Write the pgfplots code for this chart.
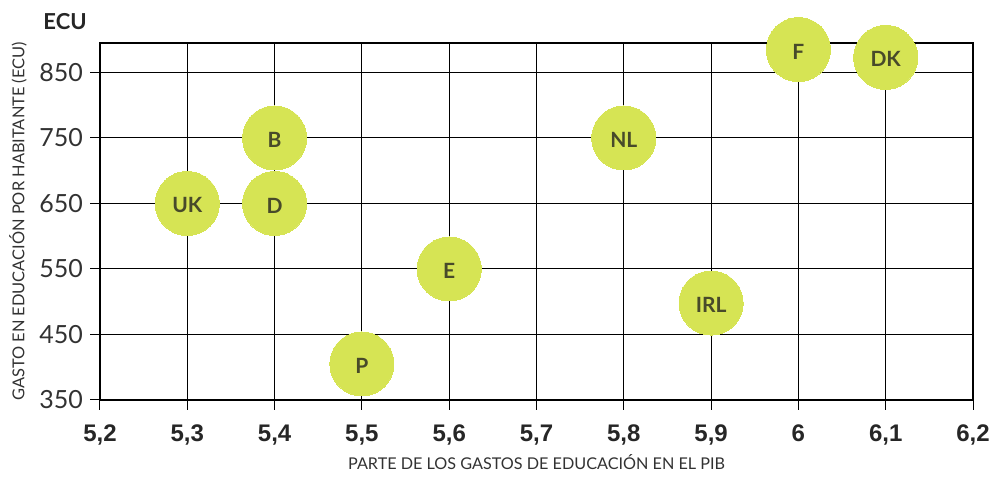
\documentclass[border=0pt]{standalone}
\usepackage{fontspec}
\setmainfont{Lato}
\newfontfamily\arialf{Liberation Sans}
\usepackage{pgfplots}
\pgfplotsset{compat=1.18}
\definecolor{bub}{RGB}{214,228,84}
\definecolor{lab}{RGB}{72,74,42}
\definecolor{txt}{RGB}{50,50,50}
\begin{document}
\begin{tikzpicture}
\path (-50pt,-45.5pt) rectangle (449pt,200pt);
\begin{axis}[
  name=ax,
  at={(0,0)}, anchor=south west,
  scale only axis, width=436.5pt, height=178.5pt,
  xmin=5.2, xmax=6.2, ymin=350, ymax=895,
  xtick={5.2,5.3,5.4,5.5,5.6,5.7,5.8,5.9,6.0,6.1,6.2},
  xticklabels={{5,2},{5,3},{5,4},{5,5},{5,6},{5,7},{5,8},{5,9},{6},{6,1},{6,2}},
  ytick={350,450,550,650,750,850},
  yticklabels={350,450,550,650,750,850},
  xticklabel style={font=\arialf\bfseries\fontsize{12}{14}\selectfont, text=black!85, yshift=-4pt},
  yticklabel style={font=\fontsize{12.5}{14}\selectfont, text=txt},
  xtick pos=lower, ytick pos=left,
  tick align=outside, major tick length=5pt,
  tick style={black, line width=0.5pt},
  grid=major,
  major grid style={black, line width=0.5pt},
  axis line style={black, line width=1.1pt},
  clip=false,
]
\addplot[bub, only marks, mark=*, mark size=16pt,
  mark options={fill=bub, draw=bub, line width=0pt},
  nodes near coords, point meta=explicit symbolic,
  every node near coord/.style={anchor=center, yshift=-1pt, font=\bfseries\fontsize{10.5}{12}\selectfont, text=lab}]
coordinates {
(5.3,650)[UK]
(5.4,750)[B]
(5.4,650)[D]
(5.5,405)[P]
(5.6,550)[E]
(5.8,750)[NL]
(5.9,498)[IRL]
(6.0,885)[F]
(6.1,873)[DK]
};
\node[font=\bfseries\fontsize{11}{13}\selectfont, text=black!85] at (rel axis cs:-0.04,1.06) {ECU};
\end{axis}
\node[yshift=-31pt, font=\fontsize{8.1}{9}\selectfont, text=txt] at (ax.south) {PARTE DE LOS GASTOS DE EDUCACIÓN EN EL PIB};
\node[xshift=-41pt, rotate=90, font=\fontsize{8.2}{9}\selectfont, text=txt] at (ax.west) {GASTO EN EDUCACIÓN POR HABITANTE (ECU)};
\end{tikzpicture}
\end{document}
